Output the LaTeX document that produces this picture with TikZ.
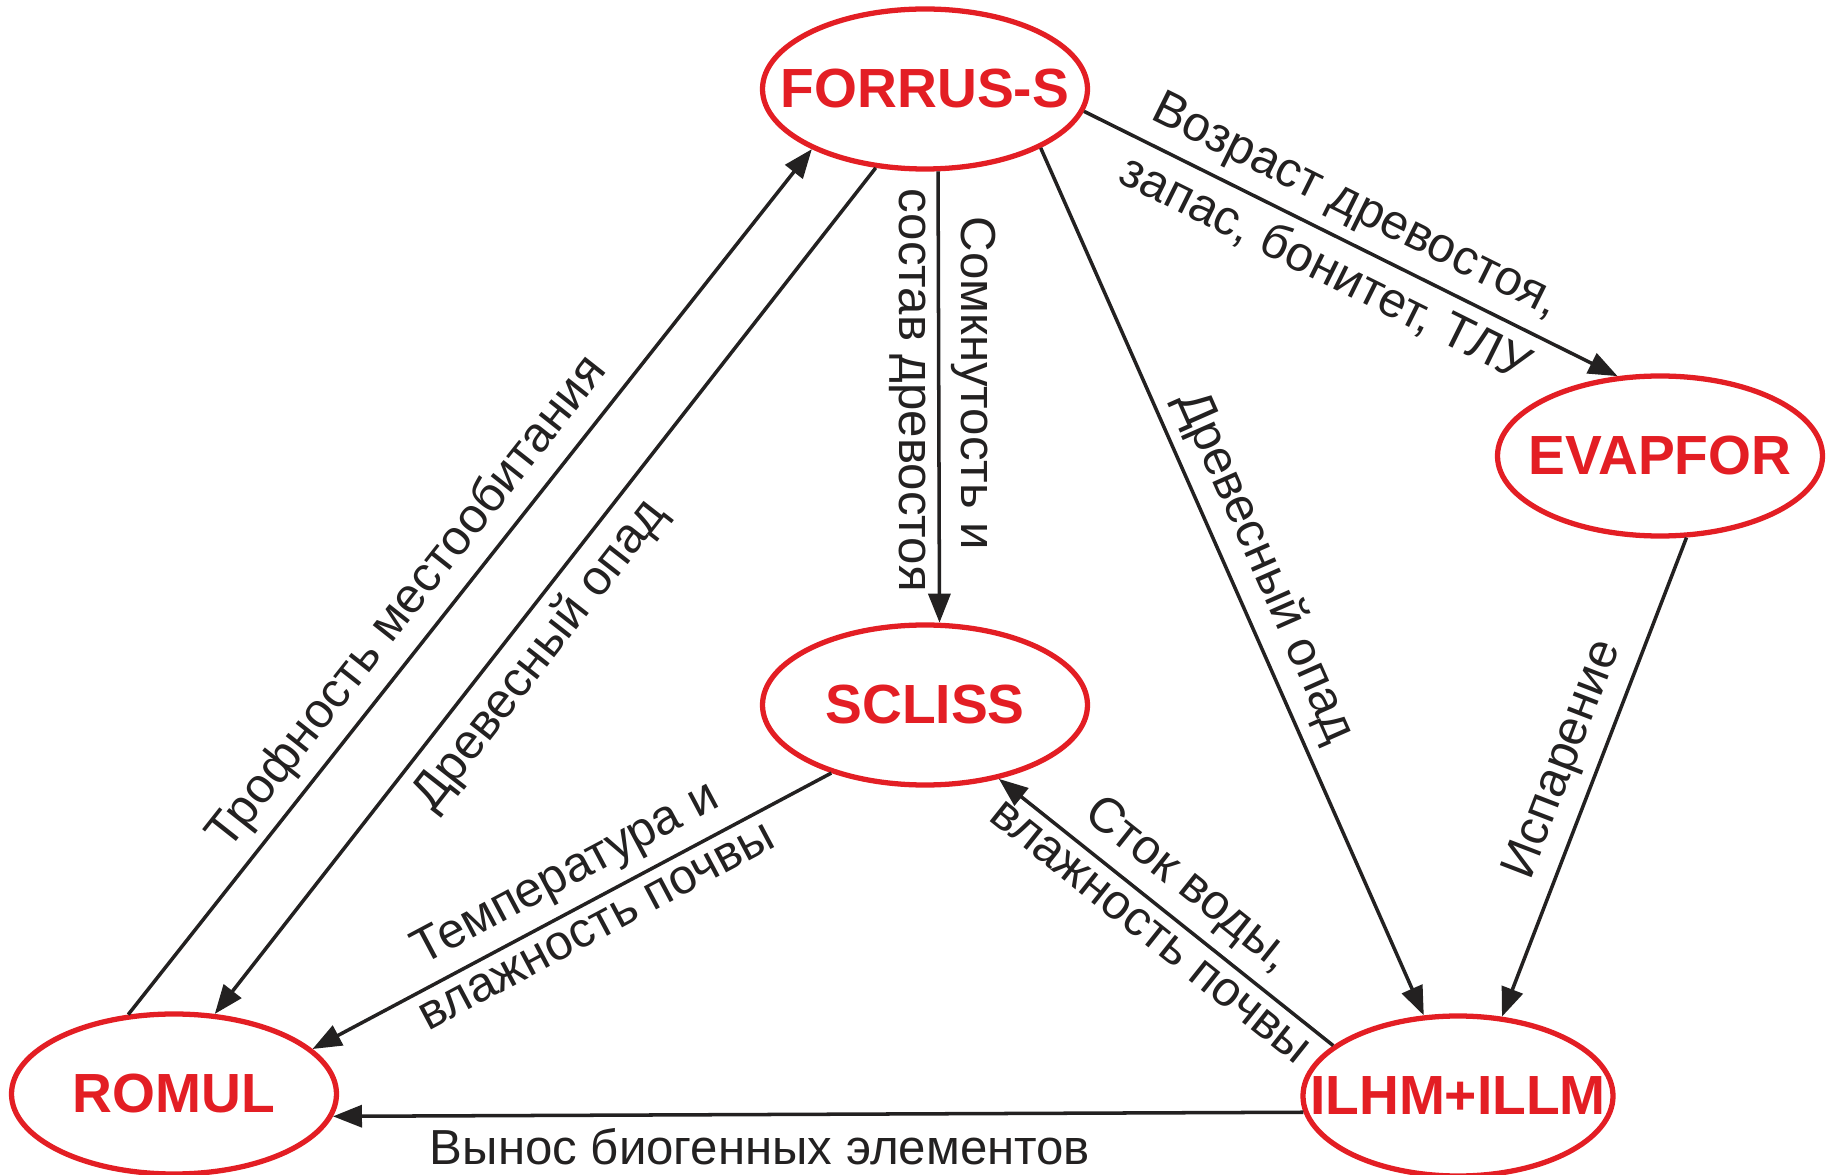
\documentclass[tikz,border=0pt]{standalone}
\usepackage{fontspec}
\setmainfont{Liberation Sans}
\usepackage{tikz}
\usetikzlibrary{shapes,arrows.meta,positioning}
\definecolor{modelred}{RGB}{227,30,36}
\definecolor{linkgray}{RGB}{35,33,33}

\begin{document}
\begin{tikzpicture}[
    model/.style={ellipse, draw=modelred, line width=1.5pt, inner xsep=-1cm, inner ysep=0pt,
        minimum width=3.25cm, minimum height=1.6cm, text=modelred,
        font=\bfseries\fontsize{15.7}{18}\selectfont},
    flow/.style={draw=linkgray, line width=1pt, -{Triangle[length=0.29cm,width=0.22cm]}},
    lbl/.style={font=\fontsize{14}{16}\selectfont, text=linkgray, inner sep=3pt}
]
    \useasboundingbox (0,0) rectangle (18.32,11.74);

    % models
    \node[model] (forrus) at (9.25,10.85) {FORRUS-S};
    \node[model] (evapfor) at (16.60,7.18) {EVAPFOR};
    \node[model] (scliss) at (9.25,4.69) {SCLISS};
    \node[model] (romul) at (1.74,0.80) {ROMUL};
    \node[model, minimum width=3.1cm] (ilhm) at (14.58,0.78) {ILHM+ILLM};

    % links
    \draw[flow] (romul.120) -- (forrus.208)
        node[lbl, pos=0.45, sloped, above] {Трофность местообитания};
    \draw[flow] (forrus.238) -- (romul.63)
        node[lbl, pos=0.55, sloped, below] {Древесный опад};
    \draw[flow] (forrus.279.5) -- (scliss.80.8)
        node[lbl, pos=0.47, rotate=-90, anchor=south] {Сомкнутость и}
        node[lbl, pos=0.485, rotate=-90, anchor=north] {состав древостоя};
    \draw[flow] (forrus.333) -- (ilhm.113)
        node[lbl, pos=0.5, sloped, above] {Древесный опад};
    \draw[flow] (forrus.352) -- (evapfor.118)
        node[lbl, pos=0.48, sloped, above] {Возраст древостоя,}
        node[lbl, pos=0.48, sloped, below] {запас, бонитет, ТЛУ};
    \draw[flow] (evapfor.288) -- (ilhm.61)
        node[lbl, pos=0.49, sloped, above] {Испарение};
    \draw[flow] (ilhm.158) -- (scliss.315)
        node[lbl, pos=0.5, sloped, above] {Сток воды,}
        node[lbl, pos=0.5, sloped, below] {влажность почвы};
    \draw[flow] (scliss.216) -- (romul.18)
        node[lbl, pos=0.48, sloped, above] {Температура и}
        node[lbl, pos=0.475, sloped, below] {влажность почвы};
    \draw[flow] (ilhm.186) -- (romul.352)
        node[lbl, pos=0.56, below, yshift=-0.02cm] {Вынос биогенных элементов};
\end{tikzpicture}
\end{document}
